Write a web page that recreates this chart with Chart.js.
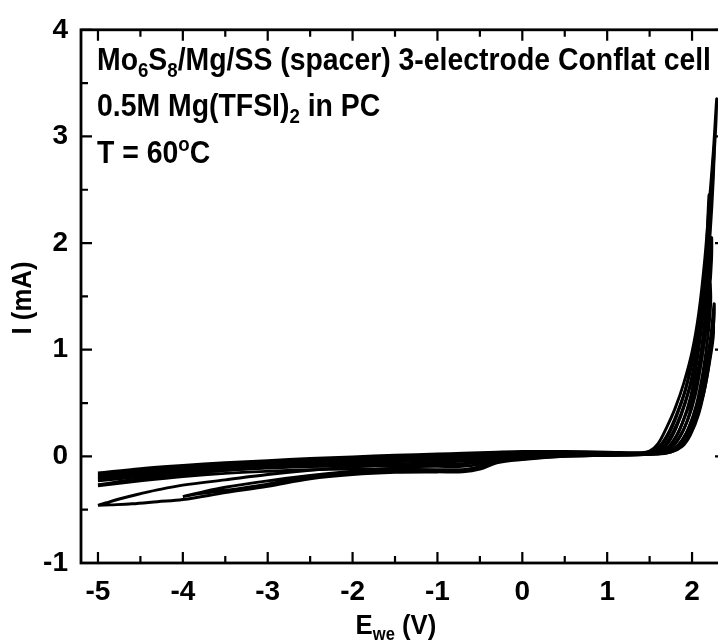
<!DOCTYPE html>
<html><head><meta charset="utf-8">
<script src="https://cdn.jsdelivr.net/npm/chart.js@4/dist/chart.umd.min.js"></script>
<style>
html,body{margin:0;padding:0;background:#fff;overflow:hidden;width:718px;height:641px}
#wrap{width:718px;height:641px;overflow:hidden;position:relative;background:#fff}
canvas{display:block}
</style></head>
<body><div id="wrap"><canvas id="c" width="730" height="641"></canvas></div>
<script>
// ---- tick labels ----
const xTicks = [-5,-4,-3,-2,-1,0,1,2];
const xMinorTicks = [-4.5,-3.5,-2.5,-1.5,-0.5,0.5,1.5];
const yTicks = [-1,0,1,2,3,4];
const yMinorTicks = [-0.5,0.5,1.5,2.5,3.5];

// ---- CV cycles (E in V, I in mA), scan order ----
const cycP_E = [-5,-4.5,-4,-3.5,-3,-2.5,-2,-1.5,-1,-0.7,-0.5,-0.3,0,0.5,1,1.4, 1.5,1.6,1.7,1.8,1.9,2.0,2.08,2.15,2.2,2.25,2.29, 2.28,2.25,2.21,2.16,2.1,2.02,1.92,1.82,1.72,1.62,1.5,1.4, 1,0.5,0,-0.3,-0.5,-0.7,-1,-1.5,-2,-2.5,-3,-3.5,-4,-4.5,-5];
const cycP_I = [-0.156,-0.115,-0.085,-0.06,-0.04,-0.02,-0.005,0.01,0.022,0.03,0.035,0.04,0.045,0.045,0.04,0.035, 0.05,0.12,0.27,0.45,0.68,0.98,1.35,1.85,2.35,2.85,3.35, 3.1,2.7,2.2,1.7,1.3,0.95,0.62,0.38,0.2,0.09,0.04,0.025, 0.025,0.025,0.02,0.01,0.0,-0.005,-0.01,-0.02,-0.03,-0.04,-0.055,-0.075,-0.10,-0.13,-0.17];

const cycQ_E = [-5,-4.5,-4,-3.5,-3,-2.5,-2,-1.5,-1,-0.7,-0.5,-0.3,0,0.5,1,1.4, 1.5,1.62,1.72,1.82,1.92,2.02,2.1,2.16,2.21,2.26, 2.25,2.21,2.16,2.1,2.02,1.92,1.82,1.72,1.6,1.4, 1,0.5,0,-0.3,-0.5,-0.7,-1,-1.5,-2,-2.5,-3,-3.5,-4,-4.5,-5];
const cycQ_I = [-0.175,-0.135,-0.10,-0.075,-0.055,-0.035,-0.02,-0.005,0.01,0.02,0.025,0.03,0.035,0.04,0.035,0.03, 0.045,0.1,0.22,0.4,0.62,0.95,1.35,1.8,2.3,2.9, 2.6,2.05,1.55,1.15,0.8,0.5,0.28,0.13,0.05,0.025, 0.02,0.02,0.01,-0.005,-0.02,-0.03,-0.035,-0.04,-0.045,-0.055,-0.07,-0.09,-0.115,-0.15,-0.19];

const cycR_E = [-5,-4.5,-4,-3.5,-3,-2.5,-2,-1.5,-1,-0.7,-0.5,-0.3,0,0.5,1,1.4, 1.55,1.67,1.77,1.87,1.97,2.05,2.12,2.17,2.20, 2.21,2.18,2.13,2.06,1.98,1.88,1.78,1.65,1.45, 1,0.5,0,-0.3,-0.5,-0.7,-1,-1.5,-2,-2.5,-3,-3.5,-4,-4.5,-5];
const cycR_I = [-0.195,-0.15,-0.115,-0.09,-0.07,-0.05,-0.035,-0.02,-0.005,0.005,0.015,0.02,0.03,0.035,0.03,0.03, 0.045,0.1,0.22,0.4,0.65,0.98,1.45,1.95,2.45, 2.2,1.8,1.35,0.9,0.55,0.3,0.14,0.05,0.025, 0.015,0.015,0.0,-0.02,-0.05,-0.068,-0.07,-0.07,-0.07,-0.075,-0.09,-0.11,-0.135,-0.17,-0.21];

const cycS_E = [-5,-4.5,-4,-3.5,-3,-2.5,-2,-1.5,-1,-0.7,-0.5,-0.3,0,0.5,1,1.4, 1.6,1.72,1.82,1.92,2.02,2.1,2.16,2.2,2.23, 2.23,2.2,2.14,2.06,1.97,1.87,1.75,1.6,1.45, 1,0.5,0,-0.3,-0.5,-0.7,-1,-1.5,-2,-2.5,-3,-3.5,-4,-4.5,-5];
const cycS_I = [-0.215,-0.17,-0.13,-0.105,-0.085,-0.065,-0.05,-0.035,-0.02,-0.01,0.0,0.01,0.02,0.03,0.03,0.025, 0.04,0.09,0.2,0.38,0.62,0.95,1.35,1.7,2.05, 1.85,1.5,1.05,0.68,0.4,0.2,0.08,0.03,0.02, 0.015,0.01,-0.01,-0.035,-0.075,-0.094,-0.094,-0.092,-0.09,-0.095,-0.11,-0.13,-0.155,-0.19,-0.23];

const cycT_E = [-5,-4.5,-4,-3.5,-3,-2.5,-2,-1.5,-1,-0.7,-0.5,-0.3,0,0.5,1,1.4, 1.62,1.75,1.85,1.95,2.04,2.11,2.17,2.21, 2.22,2.19,2.13,2.05,1.95,1.85,1.72,1.5, 1,0.5,0,-0.3,-0.5,-0.7,-1,-1.5,-2,-2.5,-3,-3.5,-4,-4.5,-5];
const cycT_I = [-0.265,-0.21,-0.165,-0.13,-0.105,-0.085,-0.065,-0.05,-0.035,-0.025,-0.015,-0.005,0.01,0.02,0.025,0.025, 0.04,0.08,0.18,0.34,0.58,0.9,1.25,1.62, 1.45,1.15,0.8,0.48,0.25,0.11,0.04,0.02, 0.01,0.005,-0.02,-0.05,-0.10,-0.124,-0.124,-0.122,-0.12,-0.125,-0.14,-0.16,-0.19,-0.23,-0.275];

const cycA_E = [-5,-4.9,-4.75,-4.55,-4.3,-4,-3.5,-3,-2.5,-2,-1.5,-1,-0.7,-0.5,-0.3,0,0.5,1,1.4, 1.65,1.8,1.9,2.0,2.08,2.16,2.22,2.26, 2.26,2.23,2.17,2.08,1.98,1.88,1.75,1.5, 1,0.5,0,-0.3,-0.5,-0.7,-1,-1.5,-2,-2.5,-3,-3.5,-4,-4.3,-4.6,-4.85,-5];
const cycA_I = [-0.46,-0.435,-0.40,-0.36,-0.315,-0.27,-0.22,-0.17,-0.13,-0.1,-0.075,-0.055,-0.045,-0.035,-0.025,-0.01,0.01,0.02,0.02, 0.03,0.07,0.15,0.3,0.5,0.82,1.12,1.43, 1.3,1.05,0.72,0.4,0.2,0.09,0.04,0.02, 0.01,0.0,-0.03,-0.06,-0.12,-0.145,-0.146,-0.15,-0.17,-0.21,-0.28,-0.34,-0.405,-0.425,-0.445,-0.455,-0.46];

const cycB_E = [-4,-3.8,-3.5,-3,-2.5,-2,-1.5,-1,-0.7,-0.5,-0.3,0,0.5,1,1.4, 1.62,1.78,1.88,1.98,2.07,2.15,2.21,2.25, 2.25,2.21,2.14,2.05,1.95,1.85,1.7,1.5, 1,0.5,0,-0.3,-0.5,-0.7,-1,-1.5,-2,-2.5,-3,-3.5,-3.8,-4];
const cycB_I = [-0.378,-0.34,-0.29,-0.23,-0.18,-0.14,-0.11,-0.085,-0.07,-0.055,-0.04,-0.02,0.005,0.015,0.02, 0.03,0.07,0.15,0.3,0.52,0.8,1.05,1.25, 1.12,0.9,0.6,0.36,0.18,0.08,0.03,0.02, 0.01,0.0,-0.025,-0.05,-0.1,-0.13,-0.135,-0.14,-0.16,-0.19,-0.26,-0.32,-0.35,-0.378];

const cycles = [[cycP_E,cycP_I],[cycQ_E,cycQ_I],[cycR_E,cycR_I],[cycS_E,cycS_I],[cycT_E,cycT_I],[cycA_E,cycA_I],[cycB_E,cycB_I]];

const FF = "'Liberation Sans Narrow','Arial Narrow','Liberation Sans',Arial,sans-serif";

function richText(ctx, x, y, parts, size, align, targetW){
  const widths = parts.map(p=>{ctx.font = 'bold '+(p[1]?Math.round(size*0.65):size)+'px '+FF; return ctx.measureText(p[0]).width;});
  const total = widths.reduce((a,b)=>a+b,0);
  const sx = targetW ? targetW/total : (align==='center' ? 0.92 : 0.9);
  ctx.save();
  ctx.translate(x, y); ctx.scale(sx, 1);
  let cx = align==='center' ? -total/2 : 0;
  ctx.textAlign='left'; ctx.textBaseline='alphabetic'; ctx.fillStyle='#000';
  parts.forEach((p,i)=>{
    const s = p[1]?Math.round(size*0.65):size;
    ctx.font = 'bold '+s+'px '+FF;
    const dy = p[1]===1 ? size*0.22 : (p[1]===2 ? -size*0.38 : 0);
    ctx.fillText(p[0], cx, dy);
    cx += widths[i];
  });
  ctx.restore();
  return sx;
}

const framePlugin = {
  id:'frame',
  afterDraw(chart){
    const ctx = chart.ctx, a = chart.chartArea, xs = chart.scales.x, ys = chart.scales.y;
    ctx.save();
    ctx.strokeStyle='#000'; ctx.lineWidth=2.8; ctx.lineCap='butt';
    ctx.strokeRect(a.left, a.top, a.right-a.left, a.bottom-a.top);
    ctx.lineWidth=2.2;
    const tk=(list,len)=>{
      list.forEach(v=>{const p=xs.getPixelForValue(v);
        ctx.beginPath();ctx.moveTo(p,a.bottom);ctx.lineTo(p,a.bottom-len);ctx.moveTo(p,a.top);ctx.lineTo(p,a.top+len);ctx.stroke();});
    };
    const tky=(list,len)=>{
      list.forEach(v=>{const p=ys.getPixelForValue(v);
        ctx.beginPath();ctx.moveTo(a.left,p);ctx.lineTo(a.left+len,p);ctx.moveTo(a.right,p);ctx.lineTo(a.right-len,p);ctx.stroke();});
    };
    tk(xTicks,11); tk(xMinorTicks,7); tky(yTicks,11); tky(yMinorTicks,7);
    // annotations (condensed bold)
    const sx = richText(ctx, 97, 70, [['Mo',0],['6',1],['S',0],['8',1],['/Mg/SS (spacer) 3-electrode Conflat cell',0]], 32, 'left', 614);
    const l2 = [['0.5M Mg(TFSI)',0],['2',1],[' in PC',0]];
    const l3 = [['T = 60',0],['o',2],['C',0]];
    const wOf = parts => parts.reduce((s,p)=>{ctx.font='bold '+(p[1]?Math.round(32*0.65):32)+'px '+FF; return s+ctx.measureText(p[0]).width;},0);
    richText(ctx, 97, 116, l2, 32, 'left', wOf(l2)*sx);
    richText(ctx, 97, 163, l3, 32, 'left', wOf(l3)*sx);
    // axis titles
    richText(ctx, 396, 634, [['E',0],['we',1],[' (V)',0]], 28, 'center');
    ctx.save(); ctx.translate(31, 298); ctx.rotate(-Math.PI/2);
    richText(ctx, 0, 0, [['I (mA)',0]], 28, 'center');
    ctx.restore();
    ctx.restore();
  }
};

new Chart(document.getElementById('c'), {
  type:'scatter',
  data:{datasets: cycles.map(c=>({
    data: c[0].map((e,i)=>({x:e,y:c[1][i]})),
    showLine:true, pointRadius:0, borderColor:'#000', borderWidth:2.9, tension:0.35, fill:false
  }))},
  options:{
    responsive:false, animation:false, events:[],
    layout:{padding:{top:23,right:4,left:0,bottom:0}},
    plugins:{legend:{display:false}, tooltip:{enabled:false}},
    scales:{
      x:{type:'linear', min:-5.2, max:2.40,
        grid:{display:false, drawTicks:false}, border:{display:false},
        afterBuildTicks:s=>{s.ticks = xTicks.map(v=>({value:v}));},
        afterFit:s=>{s.height=78;},
        ticks:{color:'#000', padding:12, maxRotation:0, autoSkip:false, font:{family:FF,size:28,weight:'bold'}, callback:v=>String(v)}},
      y:{type:'linear', min:-1, max:4,
        grid:{display:false, drawTicks:false}, border:{display:false},
        afterBuildTicks:s=>{s.ticks = yTicks.map(v=>({value:v}));},
        afterFit:s=>{s.width=81;},
        ticks:{color:'#000', padding:13, autoSkip:false, font:{family:FF,size:28,weight:'bold'}, callback:v=>String(v)}}
    }
  },
  plugins:[framePlugin]
});
</script>
</body></html>
